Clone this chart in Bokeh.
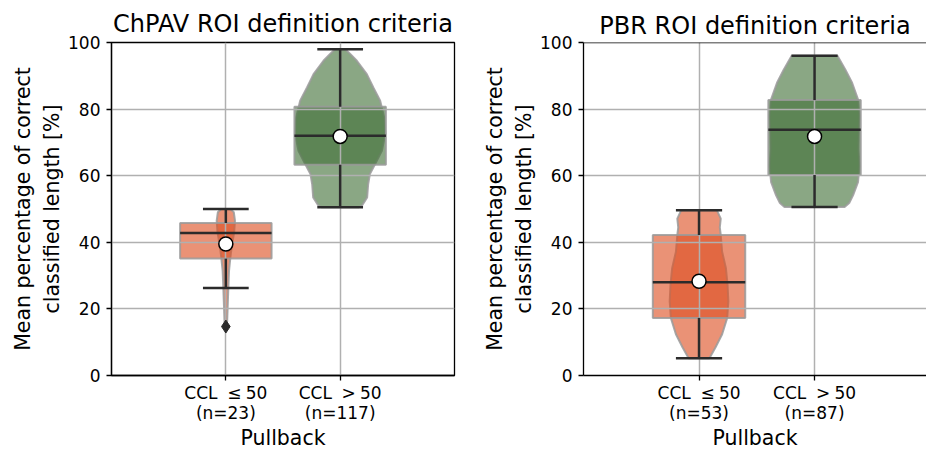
from bokeh.plotting import figure
from bokeh.layouts import row
from bokeh.models import Range1d, FixedTicker, Span, ColumnDataSource
from bokeh.embed import file_html
from bokeh.resources import INLINE

FONT = "DejaVu Sans"

# ---- data ---------------------------------------------------------------
chpav_labels = ["CCL \u2005≤\u200550\n(n=23)", "CCL \u2005>\u200550\n(n=117)"]
pbr_labels = ["CCL \u2005≤\u200550\n(n=53)", "CCL \u2005>\u200550\n(n=87)"]

# ChPAV ROI definition criteria: box statistics for [CCL<=50, CCL>50]
chpav_q1 = [35.1, 63.3]
chpav_median = [42.8, 72.0]
chpav_q3 = [45.8, 80.7]
chpav_whisker_lo = [26.3, 50.5]
chpav_whisker_hi = [50.0, 98.0]
chpav_mean = [39.5, 71.8]
chpav_outlier_group = [0]
chpav_outlier_value = [14.7]

# PBR ROI definition criteria
pbr_q1 = [17.3, 60.2]
pbr_median = [28.0, 73.8]
pbr_q3 = [42.2, 82.7]
pbr_whisker_lo = [5.2, 50.6]
pbr_whisker_hi = [49.6, 96.0]
pbr_mean = [28.3, 71.8]
pbr_outlier_group = []
pbr_outlier_value = []

# violin outlines: value levels and half widths (in x units)
chpav_low_vy = [50.0, 49.0, 46.5, 43.0, 39.5, 35.5, 31.5, 26.5, 20.5, 16.5, 15.0]
chpav_low_vw = [0.040, 0.070, 0.080, 0.073, 0.055, 0.040, 0.028, 0.022, 0.016, 0.012, 0.008]
chpav_high_vy = [98.0, 96.5, 94.5, 90.5, 86.5, 82.5, 77.5, 72.5, 67.5, 63.5, 60.5, 57.5, 53.5, 51.0, 50.5]
chpav_high_vw = [0.045, 0.090, 0.146, 0.233, 0.290, 0.350, 0.385, 0.395, 0.365, 0.306, 0.260, 0.245, 0.236, 0.190, 0.160]
pbr_low_vy = [49.6, 47.1, 44.5, 42.2, 37.2, 32.2, 27.3, 22.3, 17.3, 12.4, 8.4, 5.2]
pbr_low_vw = [0.155, 0.188, 0.180, 0.188, 0.200, 0.233, 0.247, 0.254, 0.244, 0.200, 0.142, 0.090]
pbr_high_vy = [96.0, 91.8, 87.9, 82.9, 77.9, 73.0, 68.0, 63.0, 58.1, 54.1, 51.8, 50.6]
pbr_high_vw = [0.198, 0.267, 0.325, 0.376, 0.390, 0.383, 0.380, 0.390, 0.376, 0.333, 0.300, 0.260]

# ---- styling ------------------------------------------------------------
COLORS = ["#dd4f22", "#427139"]
FILL_ALPHA = 0.62
EDGE_GRAY = "#9a9a9a"
LINE_DARK = "#2b2b2b"
BOX_W = 0.8
CAP_W = 0.4


def violin_outline(center, ys, ws):
    xs = [center + w for w in ws] + [center - w for w in reversed(ws)]
    yy = list(ys) + list(reversed(ys))
    return xs, yy


def make_panel(title, labels, q1, med, q3, lo, hi, mean, out_g, out_v,
               violins, x_end, border_left, border_right, width, border_top,
               title_standoff, show_outline):
    p = figure(width=width, height=452, x_range=Range1d(-1.0, x_end),
               y_range=Range1d(0, 100), output_backend="svg",
               toolbar_location=None, min_border_left=border_left,
               min_border_right=border_right, min_border_top=border_top,
               min_border_bottom=452 - 375)
    p.background_fill_color = "white"
    p.border_fill_color = "white"

    pos = [0, 1]

    # violins
    vx, vy = [], []
    for c, (ys, ws) in zip(pos, violins):
        xs, yy = violin_outline(c, ys, ws)
        vx.append(xs)
        vy.append(yy)
    vsrc = ColumnDataSource(dict(xs=vx, ys=vy, color=COLORS))
    p.patches("xs", "ys", source=vsrc, fill_color="color", fill_alpha=FILL_ALPHA,
              line_color=EDGE_GRAY, line_width=2, line_alpha=0.85, level="underlay")

    # boxes
    bsrc = ColumnDataSource(dict(
        left=[c - BOX_W / 2 for c in pos], right=[c + BOX_W / 2 for c in pos],
        bottom=q1, top=q3, color=COLORS))
    p.quad(left="left", right="right", bottom="bottom", top="top", source=bsrc,
           fill_color="color", fill_alpha=FILL_ALPHA, line_color=EDGE_GRAY,
           line_width=2, line_alpha=0.85, level="underlay")

    # whiskers, caps and medians
    lsrc = ColumnDataSource(dict(
        x=pos, q1=q1, q3=q3, lo=lo, hi=hi, med=med,
        cl=[c - CAP_W / 2 for c in pos], cr=[c + CAP_W / 2 for c in pos],
        bl=[c - BOX_W / 2 for c in pos], br=[c + BOX_W / 2 for c in pos]))
    kw = dict(source=lsrc, line_color=LINE_DARK, line_width=2.5, level="annotation")
    p.segment(x0="x", y0="q3", x1="x", y1="hi", **kw)
    p.segment(x0="x", y0="q1", x1="x", y1="lo", **kw)
    p.segment(x0="cl", y0="hi", x1="cr", y1="hi", **kw)
    p.segment(x0="cl", y0="lo", x1="cr", y1="lo", **kw)
    p.segment(x0="bl", y0="med", x1="br", y1="med", **kw)

    if out_v:
        p.scatter(x=out_g, y=out_v, marker="diamond", size=13,
                  fill_color=LINE_DARK, line_color=LINE_DARK, level="annotation")

    p.scatter(x=pos, y=mean, marker="circle", size=14, fill_color="white",
              line_color="black", line_width=1.5, level="annotation")

    # title
    p.title.text = title
    p.title.align = "center"
    p.title.text_font = FONT
    p.title.text_font_size = "24px"
    p.title.text_font_style = "normal"
    p.title.text_color = "black"
    p.title.standoff = title_standoff

    # axes
    p.xaxis.ticker = FixedTicker(ticks=pos)
    p.xaxis.major_label_overrides = {i: lab for i, lab in zip(pos, labels)}
    p.yaxis.ticker = FixedTicker(ticks=[0, 20, 40, 60, 80, 100])
    p.xaxis.axis_label = "Pullback"
    p.yaxis.axis_label = "Mean percentage of correct\nclassified length [%]"
    for ax in (p.xaxis, p.yaxis):
        ax.axis_label_text_font = FONT
        ax.axis_label_text_font_size = "20.5px"
        ax.axis_label_text_font_style = "normal"
        ax.axis_label_text_color = "black"
        ax.major_label_text_font = FONT
        ax.major_label_text_font_size = "17px"
        ax.major_label_text_color = "black"
        ax.axis_line_color = "black"
        ax.axis_line_width = 1.3
        ax.major_tick_line_color = "black"
        ax.major_tick_line_width = 1.3
        ax.major_tick_out = 5
        ax.major_tick_in = 0
        ax.minor_tick_line_color = None
    p.xaxis.major_label_text_line_height = 1.0
    p.xaxis.major_label_standoff = 2
    p.xaxis.axis_label_standoff = 0
    p.yaxis.major_label_standoff = 6
    p.yaxis.axis_label_standoff = 1

    # grid over the fills, under the lines
    p.grid.grid_line_color = "#b0b0b0"
    p.grid.grid_line_width = 1.5
    p.grid.level = "glyph"

    if show_outline:
        p.outline_line_color = "black"
        p.outline_line_width = 1.3
        p.outline_line_alpha = 1.0
    else:
        p.outline_line_color = None
        p.add_layout(Span(location=100, dimension="width", line_color="black",
                          line_width=1.3))
    return p


left = make_panel("ChPAV ROI definition criteria", chpav_labels,
                  chpav_q1, chpav_median, chpav_q3, chpav_whisker_lo,
                  chpav_whisker_hi, chpav_mean, chpav_outlier_group,
                  chpav_outlier_value,
                  [(chpav_low_vy, chpav_low_vw), (chpav_high_vy, chpav_high_vw)],
                  x_end=2.0, border_left=111, border_right=16, width=470,
                  border_top=42, title_standoff=9, show_outline=True)

right = make_panel("PBR ROI definition criteria", pbr_labels,
                   pbr_q1, pbr_median, pbr_q3, pbr_whisker_lo,
                   pbr_whisker_hi, pbr_mean, pbr_outlier_group,
                   pbr_outlier_value,
                   [(pbr_low_vy, pbr_low_vw), (pbr_high_vy, pbr_high_vw)],
                   x_end=1.969, border_left=113, border_right=0, width=456,
                   border_top=39, title_standoff=6, show_outline=False)

layout = row(left, right, spacing=0)
open("out.html", "w").write(file_html(layout, INLINE))
